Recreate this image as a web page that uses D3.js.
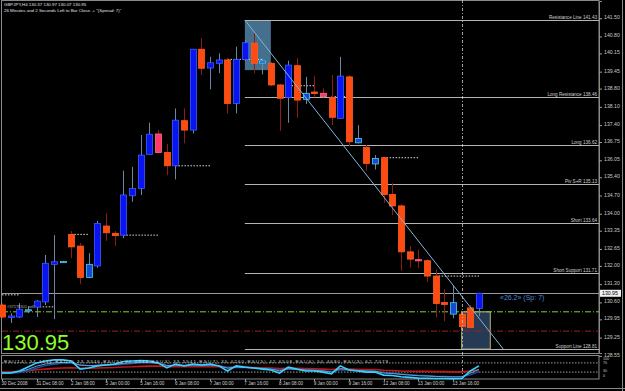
<!DOCTYPE html>
<html>
<head>
<meta charset="utf-8">
<script src="https://cdn.jsdelivr.net/npm/d3@7"></script>
<style>
  body { margin: 0; background: #000; }
  svg text { font-family: "Liberation Sans", Arial, sans-serif; }
</style>
</head>
<body>
<script>
// GBPJPY H4 bars (index 0 = 30 Dec 2008)
const opens  = [130.50,130.08,130.04,130.29,130.42,130.62,132.06,132.15,133.21,132.76,131.56,132.00,133.53,133.25,133.18,134.69,134.97,136.28,137.06,136.35,135.84,137.57,137.21,140.31,139.59,139.77,139.90,138.23,139.92,140.54,139.78,139.77,138.94,138.46,139.68,138.39,138.67,138.62,138.46,137.66,139.25,136.72,136.55,135.91,136.15,134.74,134.30,132.54,132.24,132.20,131.61,130.52,130.59,130.15,129.64,130.37];
const highs  = [130.57,130.19,130.57,130.46,130.69,132.42,133.18,132.19,133.34,132.88,132.49,133.72,134.02,133.34,135.65,135.80,137.02,137.49,137.21,136.67,138.04,138.04,140.32,140.73,140.02,140.15,139.97,140.41,140.66,140.94,139.97,139.82,138.98,139.87,139.98,139.25,139.29,138.81,139.32,140.02,139.32,137.40,136.64,136.25,136.15,135.17,134.37,132.76,132.63,132.25,131.87,131.10,131.23,130.24,130.50,130.97];
const lows   = [130.00,129.81,130.00,130.19,130.04,130.50,129.96,132.11,132.30,131.30,131.53,131.93,132.96,132.76,133.06,134.46,134.72,136.26,136.33,135.48,135.32,136.70,137.08,139.32,138.77,139.39,137.85,137.85,139.86,139.39,139.35,138.90,137.18,137.49,137.68,138.21,138.46,138.46,137.40,137.66,136.60,136.70,135.65,135.70,134.42,133.95,131.81,131.94,131.91,131.39,130.03,129.88,129.99,129.65,129.54,130.07];
const closes = [130.04,130.02,130.34,130.32,130.65,132.10,132.16,132.17,132.73,131.56,132.06,133.63,133.27,133.16,134.72,134.97,136.25,137.05,136.35,135.84,137.59,137.21,140.31,139.58,139.79,139.90,138.23,139.92,140.56,139.77,139.86,138.94,138.43,139.70,138.36,138.62,138.61,138.49,137.70,139.28,136.76,136.89,135.93,136.12,134.74,134.30,132.54,132.26,132.20,131.61,130.56,130.60,130.15,129.67,130.39,130.95];
// candle style: b bull, s bear, p pink bear, c small cyan bar
const kinds = "sbbcbbbcsscbssbbbbpsbsbsbbsbbscssbscspsbscscsssspssscssbb".split("");

// RSI panel series (0..100)
const rsiFast = [26,26,35,52,70,78,83,83,78,43,48,57,61,65,76,78,80,78,70,48,65,57,65,61,65,57,35,57,52,48,43,39,26,52,43,35,35,30,22,57,39,35,30,30,17,15,10,7,4,3,2,2,1,2,35,57];
const rsiMid  = [27,28,32,42,56,65,70,72,72,60,58,60,62,63,68,70,72,72,68,58,60,58,61,60,61,58,47,52,50,48,46,43,36,45,42,39,38,35,30,45,40,37,35,34,26,24,20,17,14,13,11,10,9,9,25,42];
const rsiDark = [24,25,28,36,48,58,64,68,70,62,58,58,60,61,64,67,70,71,68,60,59,58,59,59,60,58,50,51,50,48,46,44,39,42,42,40,38,36,32,40,39,37,35,34,29,26,22,19,16,14,12,11,10,10,18,32];
const rsiSlow = [30,31,33,36,40,43,46,48,49,47,47,48,49,50,52,53,55,56,56,54,54,53,54,54,54,53,50,51,51,50,49,48,45,47,46,45,44,43,41,44,43,42,41,41,38,37,35,34,33,33,32,32,31,31,35,40];
const rsiText = "RSI(14) 34.1136  RSI(7) 33.9346  RSI(5) 31.0938  RSI(3) 33.5541  RSI(7) 35.0260  RSI(5) 42.6508  RSI(6) 50.4680  RSI(3) 62.7079";

// price axis ticks
const priceTicks = [141.50,140.80,140.15,139.45,138.80,138.10,137.40,136.75,136.05,135.40,134.70,134.00,133.35,132.65,132.00,131.30,130.60,129.95,129.25,128.55];
// time axis ticks (bar index -> label)
const timeTickBars = [0,4,8,12,16,20,24,28,32,36,40,44,48,52];
const timeTickLabels = ["30 Dec 2008","31 Dec 08:00","2 Jan 08:00","5 Jan 00:00","5 Jan 16:00","6 Jan 08:00","7 Jan 00:00","7 Jan 16:00","8 Jan 08:00","9 Jan 00:00","9 Jan 16:00","12 Jan 08:00","13 Jan 00:00","13 Jan 16:00"];
const rsiTicks = [100, 70, 30, 0];

// horizontal level objects
const levelNames  = ["Resistance Line","Long Resistance","Long","Piv S+R","Short","Short Support","Support Line"];
const levelPrices = [141.43,138.46,136.62,135.13,133.64,131.71,128.81];
const levelStart  = 28;

// dotted short segments [startBar, endBar, price]
const dotSegs = [[0,2,130.89],[4,6,130.43],[8,10,133.21],[14,18,133.18],[20,24,135.84],[26,30,139.92],[32,36,138.91],[38,40,138.49],[44,48,136.15],[50,55,131.61]];

const bid = 130.95;
const greenLevel = 130.24;
const redLevel = 129.50;
const trendFrom = [28,141.43], trendTo = [57.8,128.81];
const box1 = [28,31,141.43,139.51];
const box2 = [53,56.3,130.24,128.81];
const cursorBar = 53;

const W = 625, H = 391;
const svg = d3.select("body").append("svg")
  .attr("width", W).attr("height", H)
  .style("background", "#000");

const x = d3.scaleLinear().domain([0, 55]).range([2, 479]);
const y = d3.scaleLinear().domain([128.66, 142.16]).range([353, 1]);
const yr = d3.scaleLinear().domain([0, 100]).range([379, 356]);
const plotRight = 599;

// frames
svg.append("rect").attr("x",1.5).attr("y",0.5).attr("width",plotRight-1.5).attr("height",353)
  .attr("fill","none").attr("stroke","#8a8a8a");
svg.append("rect").attr("x",1.5).attr("y",355.5).attr("width",plotRight-1.5).attr("height",23.5)
  .attr("fill","none").attr("stroke","#8a8a8a");
svg.append("line").attr("x1",622.5).attr("x2",622.5).attr("y1",0).attr("y2",H).attr("stroke","#8a8a8a");
svg.append("line").attr("x1",0).attr("x2",W).attr("y1",388.5).attr("y2",388.5).attr("stroke","#8a8a8a");

const main = svg.append("g");

// boxes (background)
main.append("rect")
  .attr("x", x(box1[0])).attr("width", x(box1[1]) - x(box1[0]))
  .attr("y", y(box1[2])).attr("height", y(box1[3]) - y(box1[2]))
  .attr("fill", "#44708e");
main.append("rect")
  .attr("x", x(box2[0])).attr("width", x(box2[1]) - x(box2[0]))
  .attr("y", y(box2[2])).attr("height", y(box2[3]) - y(box2[2]))
  .attr("fill", "#263a55").attr("stroke", "#b8b860").attr("stroke-width", 1);

// level lines
levelPrices.forEach((p, i) => {
  main.append("line")
    .attr("x1", x(levelStart)).attr("x2", plotRight)
    .attr("y1", Math.round(y(p)) + 0.5).attr("y2", Math.round(y(p)) + 0.5)
    .attr("stroke", "#b4b4b4").attr("stroke-width", 1);
  main.append("text")
    .attr("x", plotRight - 2).attr("y", Math.round(y(p)) - 1.5)
    .attr("text-anchor", "end").attr("font-size", 4.6).attr("fill", "#d0d0d0")
    .text(levelNames[i] + " " + p.toFixed(2));
});

// bid line
main.append("line").attr("x1", 2).attr("x2", plotRight)
  .attr("y1", Math.round(y(bid)) + 0.5).attr("y2", Math.round(y(bid)) + 0.5)
  .attr("stroke", "#9a9a9a");

// dash-dot levels
main.append("line").attr("x1", 2).attr("x2", plotRight)
  .attr("y1", y(greenLevel)).attr("y2", y(greenLevel))
  .attr("stroke", "#7ccf3a").attr("stroke-dasharray", "6,2,1,2");
main.append("line").attr("x1", 2).attr("x2", plotRight)
  .attr("y1", y(redLevel)).attr("y2", y(redLevel))
  .attr("stroke", "#9a2020").attr("stroke-dasharray", "6,2,1,2");

// dotted segments
main.selectAll(".dseg").data(dotSegs).enter().append("line")
  .attr("x1", d => x(d[0])).attr("x2", d => x(d[1]))
  .attr("y1", d => y(d[2])).attr("y2", d => y(d[2]))
  .attr("stroke", "#d8d8d8").attr("stroke-dasharray", "1.5,1.5");

// candles
const idx = d3.range(opens.length);
const bodyW = 6;
const wickCol = k => (k === "s" || k === "p") ? "#8e1c12" : "#6d86a8";
const fillCol = { b: "#0a14f0", s: "#ff4a12", p: "#ff3a6a", c: "#1848d8" };
const edgeCol = { b: "#3a5cff", s: "#ff5a20", p: "#ff6a8a", c: "#48d0e8" };

main.selectAll(".wick").data(idx).enter().append("line")
  .attr("x1", i => Math.round(x(i)) + 0.5).attr("x2", i => Math.round(x(i)) + 0.5)
  .attr("y1", i => y(highs[i])).attr("y2", i => y(lows[i]))
  .attr("stroke", i => wickCol(kinds[i])).attr("stroke-width", 1);

main.selectAll(".body").data(idx).enter().append("rect")
  .attr("x", i => Math.round(x(i)) + 0.5 - bodyW / 2)
  .attr("width", bodyW)
  .attr("y", i => y(Math.max(opens[i], closes[i])))
  .attr("height", i => Math.max(1.2, Math.abs(y(opens[i]) - y(closes[i]))))
  .attr("fill", i => fillCol[kinds[i]])
  .attr("stroke", i => edgeCol[kinds[i]]).attr("stroke-width", 0.8);

// trend line
main.append("line")
  .attr("x1", x(trendFrom[0])).attr("y1", y(trendFrom[1]))
  .attr("x2", x(trendTo[0])).attr("y2", y(trendTo[1]))
  .attr("stroke", "#7fb8d8").attr("stroke-width", 1);

// cursor line
svg.append("line")
  .attr("x1", Math.round(x(cursorBar)) + 0.5).attr("x2", Math.round(x(cursorBar)) + 0.5)
  .attr("y1", 0).attr("y2", 379)
  .attr("stroke", "#c8c8c8").attr("stroke-dasharray", "3,2,1,2").attr("stroke-width", 0.8);

// texts
svg.append("text").attr("x", 4).attr("y", 6).attr("font-size", 4.4).attr("fill", "#e0e0e0")
  .text("GBPJPY,H4  130.37 130.97 130.07 130.95");
svg.append("text").attr("x", 4).attr("y", 11.5).attr("font-size", 4.4).attr("fill", "#e0e0e0")
  .text("26 Minutes and 2 Seconds Left to Bar Close. + ''(Spread: 7)''");
svg.append("text").attr("x", 2).attr("y", 349.5).attr("font-size", 22).attr("fill", "#8cff2a")
  .text("130.95");
svg.append("text").attr("x", 500).attr("y", 299.5).attr("font-size", 7).attr("fill", "#4f86d8")
  .text("«26.2» (Sp: 7)");
svg.append("text").attr("x", 7).attr("y", 308).attr("font-size", 4).attr("fill", "#b0b0b0")
  .text("#37178301 sell");

// price axis
const yAxis = d3.axisRight(y).tickValues(priceTicks).tickSize(3).tickPadding(2)
  .tickFormat(d3.format(".2f"));
const ya = svg.append("g").attr("transform", `translate(${plotRight},0)`).call(yAxis);
ya.select(".domain").attr("stroke", "#8a8a8a");
ya.selectAll(".tick line").attr("stroke", "#a0a0a0");
ya.selectAll(".tick text").attr("fill", "#c8c8c8").attr("font-size", 5.2)
  .attr("font-family", "Liberation Sans, Arial, sans-serif").attr("dy", "0.1em");

// bid label box
svg.append("rect").attr("x", 600).attr("y", y(bid) - 3.5).attr("width", 21).attr("height", 7).attr("fill", "#f0f0f0");
svg.append("text").attr("x", 602).attr("y", y(bid) + 2).attr("font-size", 5.2).attr("fill", "#000").text(bid.toFixed(2));

// RSI panel
const rsi = svg.append("g");
[70, 30].forEach(v => rsi.append("line").attr("x1", 2).attr("x2", plotRight)
  .attr("y1", yr(v)).attr("y2", yr(v)).attr("stroke", "#9a9a9a").attr("stroke-dasharray", "1.5,1.5"));
const rline = d3.line().x((d, i) => x(i)).y(d => yr(d));
rsi.append("path").datum(rsiSlow).attr("d", rline).attr("fill", "none").attr("stroke", "#c01818").attr("stroke-width", 1.6);
rsi.append("path").datum(rsiDark).attr("d", rline).attr("fill", "none").attr("stroke", "#1c4c9c").attr("stroke-width", 1.4);
rsi.append("path").datum(rsiMid).attr("d", rline).attr("fill", "none").attr("stroke", "#5fa0d8").attr("stroke-width", 1);
rsi.append("path").datum(rsiFast).attr("d", rline).attr("fill", "none").attr("stroke", "#38d0ff").attr("stroke-width", 1.6);
rsi.append("text").attr("x", 4).attr("y", 363).attr("font-size", 4.4).attr("fill", "#d8d8d8")
  .attr("textLength", 384).attr("lengthAdjust", "spacing").text(rsiText);

// RSI scale labels (small, stacked like the terminal's)
const rsiLabelY = [359.5, 364, 372, 377];
rsiTicks.forEach((v, i) => svg.append("text").attr("x", 603).attr("y", rsiLabelY[i])
  .attr("font-size", 3.6).attr("fill", "#c8c8c8").text(v));

// time axis
const tx = svg.append("g");
timeTickBars.forEach((b, i) => {
  tx.append("line").attr("x1", Math.round(x(b)) + 0.5).attr("x2", Math.round(x(b)) + 0.5)
    .attr("y1", 379).attr("y2", 381).attr("stroke", "#a0a0a0");
  tx.append("text").attr("x", x(b) - 0.5).attr("y", 385).attr("font-size", 4.6)
    .attr("fill", "#d0d0d0").text(timeTickLabels[i]);
});
</script>
</body>
</html>
